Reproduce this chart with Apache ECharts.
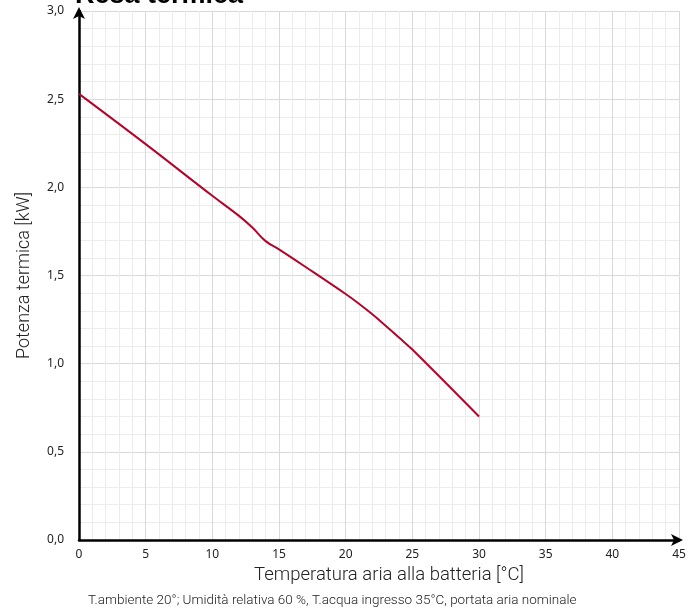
<!DOCTYPE html>
<html>
<head>
<meta charset="utf-8">
<script src="https://cdn.jsdelivr.net/npm/echarts@6/dist/echarts.min.js"></script>
<style>
html,body{margin:0;padding:0;background:#fff;}
#chart{width:699px;height:609px;}
</style>
</head>
<body>
<div id="chart"></div>
<script>
var titleText = 'Resa termica';
var subtitleText = 'T.ambiente 20°; Umidità relativa 60 %, T.acqua ingresso 35°C, portata aria nominale';
var xName = 'Temperatura aria alla batteria [°C]';
var yName = 'Potenza termica [kW]';
var temperature = [0, 5, 10, 12, 13, 14, 15, 17, 20, 21, 22, 23, 24, 25, 30];
var power = [2.53, 2.245, 1.952, 1.838, 1.772, 1.695, 1.648, 1.548, 1.395, 1.34, 1.28, 1.215, 1.148, 1.08, 0.70];

var seriesData = temperature.map(function (t, i) { return [t, power[i]]; });

var chart = echarts.init(document.getElementById('chart'));
chart.setOption({
  animation: false,
  backgroundColor: '#ffffff',
  title: [{
    text: titleText,
    left: 70,
    top: -23,
    textStyle: { fontFamily: 'Liberation Sans', fontWeight: 'bold', fontSize: 27, color: '#000' }
  }, {
    text: subtitleText,
    left: 83,
    top: 589,
    textStyle: { fontFamily: 'Roboto', fontWeight: 300, fontSize: 13.5, color: '#222' }
  }],
  grid: { left: 79, right: 20, top: 11, bottom: 69, containLabel: false },
  xAxis: {
    type: 'value',
    min: 0, max: 45, interval: 5,
    name: xName,
    nameLocation: 'middle',
    nameGap: 26,
    nameTextStyle: { fontFamily: 'Roboto', fontWeight: 300, fontSize: 18.5, color: '#222', padding: [0, 0, 0, 20] },
    axisLine: { show: true, onZero: false, symbol: ['none', 'arrow'], symbolSize: [9, 12], symbolOffset: [0, 4], lineStyle: { color: '#000', width: 2.5 } },
    axisTick: { show: false },
    axisLabel: { fontFamily: 'Noto Sans', fontSize: 12, color: '#222', margin: 9 },
    splitLine: { show: true, lineStyle: { color: '#d9d9d9', width: 1 } },
    minorTick: { show: false, splitNumber: 5 },
    minorSplitLine: { show: true, lineStyle: { color: '#ececec', width: 1 } }
  },
  yAxis: {
    type: 'value',
    min: 0, max: 3, interval: 0.5,
    name: yName,
    nameLocation: 'middle',
    nameGap: 46,
    nameTextStyle: { fontFamily: 'Roboto', fontWeight: 300, fontSize: 18, color: '#222' },
    axisLine: { show: true, onZero: false, symbol: ['none', 'arrow'], symbolSize: [9, 12], symbolOffset: [0, 4], lineStyle: { color: '#000', width: 2.5 } },
    axisTick: { show: false },
    axisLabel: {
      fontFamily: 'Noto Sans', fontSize: 12, color: '#222', margin: 15,
      formatter: function (v) { return v.toFixed(1).replace('.', ','); }
    },
    splitLine: { show: true, lineStyle: { color: '#d9d9d9', width: 1 } },
    minorTick: { show: false, splitNumber: 5 },
    minorSplitLine: { show: true, lineStyle: { color: '#ececec', width: 1 } }
  },
  series: [{
    type: 'line',
    data: seriesData,
    smooth: 0.4,
    showSymbol: false,
    lineStyle: { color: '#b0062c', width: 2 },
    z: 5
  }]
});
</script>
</body>
</html>
